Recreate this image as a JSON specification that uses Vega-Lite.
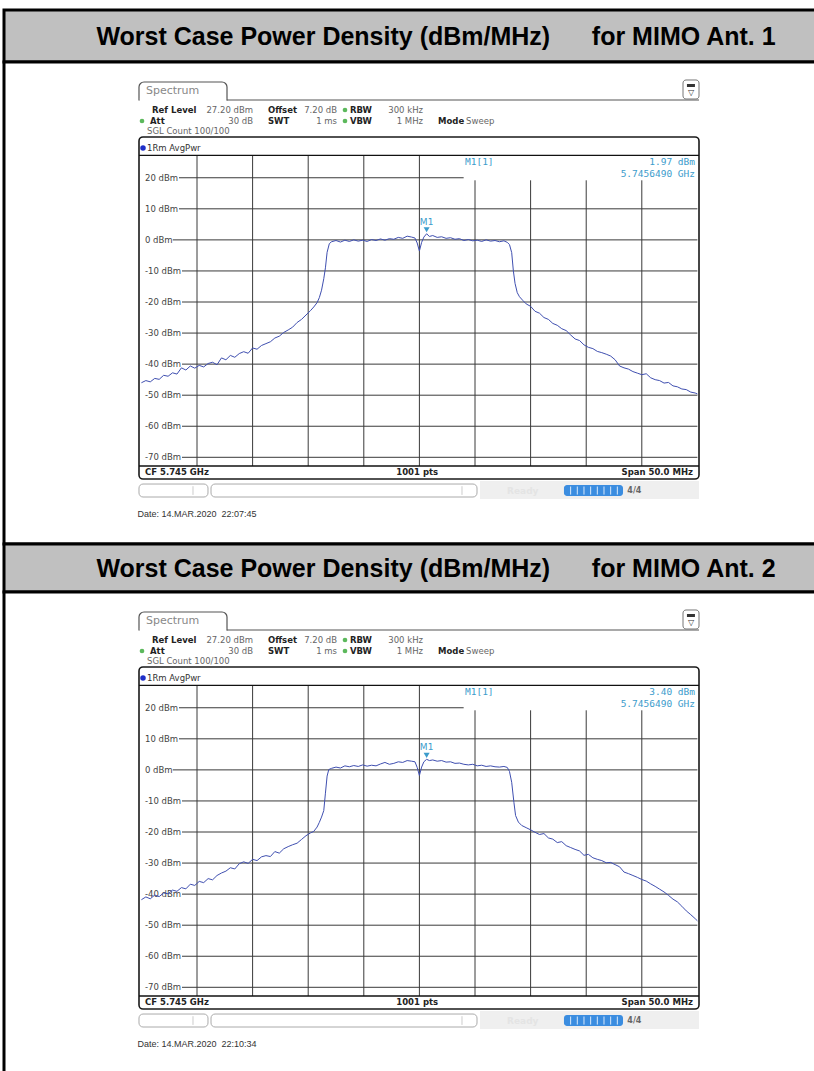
{
"$schema": "https://vega.github.io/schema/vega-lite/v6.json",
"background": "white",
"padding": {"left": 2, "top": 8, "right": 0, "bottom": 0},
"bounds": "flush",
"spacing": 0,
"config": {"font": "DejaVu Sans", "view": {"stroke": null}, "axis": {"disable": true}},
"datasets": {
"tr1": [{"mhz":5720.0,"dbm":-46.0},{"mhz":5720.4,"dbm":-45.3},{"mhz":5720.8,"dbm":-45.7},{"mhz":5721.2,"dbm":-44.6},{"mhz":5721.6,"dbm":-44.9},{"mhz":5722.0,"dbm":-43.6},{"mhz":5722.4,"dbm":-43.9},{"mhz":5722.8,"dbm":-42.8},{"mhz":5723.2,"dbm":-43.2},{"mhz":5723.6,"dbm":-41.2},{"mhz":5724.0,"dbm":-41.9},{"mhz":5724.4,"dbm":-40.6},{"mhz":5724.8,"dbm":-41.3},{"mhz":5725.2,"dbm":-40.4},{"mhz":5725.6,"dbm":-40.9},{"mhz":5726.0,"dbm":-39.8},{"mhz":5726.4,"dbm":-39.4},{"mhz":5726.8,"dbm":-40.2},{"mhz":5727.2,"dbm":-38.0},{"mhz":5727.6,"dbm":-38.6},{"mhz":5728.0,"dbm":-37.2},{"mhz":5728.4,"dbm":-37.8},{"mhz":5728.8,"dbm":-36.6},{"mhz":5729.2,"dbm":-36.0},{"mhz":5729.6,"dbm":-36.5},{"mhz":5730.0,"dbm":-34.8},{"mhz":5730.4,"dbm":-35.2},{"mhz":5730.8,"dbm":-34.0},{"mhz":5731.2,"dbm":-33.4},{"mhz":5731.6,"dbm":-32.8},{"mhz":5732.0,"dbm":-31.6},{"mhz":5732.4,"dbm":-31.0},{"mhz":5732.8,"dbm":-29.8},{"mhz":5733.2,"dbm":-29.0},{"mhz":5733.6,"dbm":-28.1},{"mhz":5734.0,"dbm":-26.6},{"mhz":5734.4,"dbm":-25.6},{"mhz":5734.8,"dbm":-24.2},{"mhz":5735.2,"dbm":-22.8},{"mhz":5735.5,"dbm":-21.6},{"mhz":5735.8,"dbm":-20.2},{"mhz":5736.0,"dbm":-18.6},{"mhz":5736.2,"dbm":-16.2},{"mhz":5736.4,"dbm":-12.5},{"mhz":5736.55,"dbm":-9.0},{"mhz":5736.7,"dbm":-4.0},{"mhz":5736.9,"dbm":-1.2},{"mhz":5737.1,"dbm":-0.6},{"mhz":5737.5,"dbm":-0.2},{"mhz":5737.9,"dbm":-0.7},{"mhz":5738.3,"dbm":-0.1},{"mhz":5738.7,"dbm":-0.5},{"mhz":5739.1,"dbm":0.0},{"mhz":5739.5,"dbm":-0.4},{"mhz":5739.9,"dbm":-0.1},{"mhz":5740.3,"dbm":-0.5},{"mhz":5740.7,"dbm":0.1},{"mhz":5741.1,"dbm":-0.2},{"mhz":5741.5,"dbm":0.3},{"mhz":5741.9,"dbm":-0.1},{"mhz":5742.3,"dbm":0.4},{"mhz":5742.7,"dbm":0.2},{"mhz":5743.1,"dbm":0.8},{"mhz":5743.5,"dbm":0.5},{"mhz":5743.9,"dbm":1.2},{"mhz":5744.3,"dbm":0.9},{"mhz":5744.6,"dbm":0.6},{"mhz":5744.8,"dbm":-1.0},{"mhz":5745.0,"dbm":-3.6},{"mhz":5745.2,"dbm":-0.8},{"mhz":5745.4,"dbm":0.9},{"mhz":5745.65,"dbm":1.97},{"mhz":5745.9,"dbm":1.1},{"mhz":5746.2,"dbm":1.4},{"mhz":5746.6,"dbm":0.8},{"mhz":5747.0,"dbm":1.0},{"mhz":5747.4,"dbm":0.5},{"mhz":5747.8,"dbm":0.7},{"mhz":5748.2,"dbm":0.2},{"mhz":5748.6,"dbm":0.4},{"mhz":5749.0,"dbm":-0.2},{"mhz":5749.4,"dbm":0.1},{"mhz":5749.8,"dbm":-0.3},{"mhz":5750.2,"dbm":-0.1},{"mhz":5750.6,"dbm":-0.5},{"mhz":5751.0,"dbm":0.0},{"mhz":5751.4,"dbm":-0.4},{"mhz":5751.8,"dbm":-0.2},{"mhz":5752.2,"dbm":-0.6},{"mhz":5752.6,"dbm":-0.3},{"mhz":5752.9,"dbm":-0.8},{"mhz":5753.1,"dbm":-1.5},{"mhz":5753.3,"dbm":-4.1},{"mhz":5753.45,"dbm":-10.0},{"mhz":5753.6,"dbm":-14.0},{"mhz":5753.8,"dbm":-17.0},{"mhz":5754.0,"dbm":-18.3},{"mhz":5754.3,"dbm":-19.5},{"mhz":5754.6,"dbm":-20.6},{"mhz":5755.0,"dbm":-21.4},{"mhz":5755.4,"dbm":-23.0},{"mhz":5755.8,"dbm":-23.6},{"mhz":5756.2,"dbm":-25.0},{"mhz":5756.6,"dbm":-25.6},{"mhz":5757.0,"dbm":-26.9},{"mhz":5757.4,"dbm":-27.5},{"mhz":5757.8,"dbm":-28.6},{"mhz":5758.2,"dbm":-29.2},{"mhz":5758.6,"dbm":-30.6},{"mhz":5759.0,"dbm":-31.9},{"mhz":5759.4,"dbm":-32.4},{"mhz":5759.8,"dbm":-33.8},{"mhz":5760.2,"dbm":-34.6},{"mhz":5760.6,"dbm":-35.0},{"mhz":5761.0,"dbm":-35.9},{"mhz":5761.4,"dbm":-36.3},{"mhz":5761.8,"dbm":-36.8},{"mhz":5762.2,"dbm":-37.4},{"mhz":5762.6,"dbm":-38.6},{"mhz":5763.0,"dbm":-40.6},{"mhz":5763.4,"dbm":-41.2},{"mhz":5763.8,"dbm":-41.6},{"mhz":5764.2,"dbm":-42.4},{"mhz":5764.6,"dbm":-42.9},{"mhz":5765.0,"dbm":-43.4},{"mhz":5765.4,"dbm":-43.1},{"mhz":5765.8,"dbm":-44.4},{"mhz":5766.2,"dbm":-45.0},{"mhz":5766.6,"dbm":-45.3},{"mhz":5767.0,"dbm":-46.1},{"mhz":5767.4,"dbm":-45.9},{"mhz":5767.8,"dbm":-47.0},{"mhz":5768.2,"dbm":-47.3},{"mhz":5768.6,"dbm":-48.0},{"mhz":5769.0,"dbm":-48.2},{"mhz":5769.4,"dbm":-49.0},{"mhz":5769.8,"dbm":-49.3},{"mhz":5770.0,"dbm":-49.6}],
"tr2": [{"mhz":5720.0,"dbm":-41.8},{"mhz":5720.4,"dbm":-40.9},{"mhz":5720.8,"dbm":-41.5},{"mhz":5721.2,"dbm":-40.3},{"mhz":5721.6,"dbm":-40.8},{"mhz":5722.0,"dbm":-39.6},{"mhz":5722.4,"dbm":-39.9},{"mhz":5722.8,"dbm":-38.7},{"mhz":5723.2,"dbm":-39.1},{"mhz":5723.6,"dbm":-37.9},{"mhz":5724.0,"dbm":-38.3},{"mhz":5724.4,"dbm":-36.8},{"mhz":5724.8,"dbm":-37.2},{"mhz":5725.2,"dbm":-35.9},{"mhz":5725.6,"dbm":-36.3},{"mhz":5726.0,"dbm":-35.0},{"mhz":5726.4,"dbm":-35.4},{"mhz":5726.8,"dbm":-34.0},{"mhz":5727.2,"dbm":-33.2},{"mhz":5727.6,"dbm":-32.6},{"mhz":5728.0,"dbm":-31.5},{"mhz":5728.4,"dbm":-31.9},{"mhz":5728.8,"dbm":-30.2},{"mhz":5729.2,"dbm":-29.6},{"mhz":5729.6,"dbm":-30.1},{"mhz":5730.0,"dbm":-28.8},{"mhz":5730.4,"dbm":-29.2},{"mhz":5730.8,"dbm":-28.0},{"mhz":5731.2,"dbm":-27.6},{"mhz":5731.6,"dbm":-27.9},{"mhz":5732.0,"dbm":-26.3},{"mhz":5732.4,"dbm":-26.8},{"mhz":5732.8,"dbm":-25.4},{"mhz":5733.2,"dbm":-24.7},{"mhz":5733.6,"dbm":-24.1},{"mhz":5734.0,"dbm":-23.6},{"mhz":5734.4,"dbm":-22.4},{"mhz":5734.8,"dbm":-21.2},{"mhz":5735.2,"dbm":-20.3},{"mhz":5735.5,"dbm":-19.8},{"mhz":5735.8,"dbm":-18.4},{"mhz":5736.0,"dbm":-16.9},{"mhz":5736.2,"dbm":-15.2},{"mhz":5736.4,"dbm":-13.1},{"mhz":5736.55,"dbm":-7.5},{"mhz":5736.7,"dbm":-2.0},{"mhz":5736.85,"dbm":0.1},{"mhz":5737.1,"dbm":0.5},{"mhz":5737.5,"dbm":0.9},{"mhz":5737.9,"dbm":0.6},{"mhz":5738.3,"dbm":1.3},{"mhz":5738.7,"dbm":1.0},{"mhz":5739.1,"dbm":1.4},{"mhz":5739.5,"dbm":1.1},{"mhz":5739.9,"dbm":1.6},{"mhz":5740.3,"dbm":1.2},{"mhz":5740.7,"dbm":1.5},{"mhz":5741.1,"dbm":1.3},{"mhz":5741.5,"dbm":1.9},{"mhz":5741.9,"dbm":2.4},{"mhz":5742.3,"dbm":1.8},{"mhz":5742.7,"dbm":2.1},{"mhz":5743.1,"dbm":2.6},{"mhz":5743.5,"dbm":2.4},{"mhz":5743.9,"dbm":3.0},{"mhz":5744.3,"dbm":2.8},{"mhz":5744.6,"dbm":2.6},{"mhz":5744.8,"dbm":0.8},{"mhz":5745.0,"dbm":-1.8},{"mhz":5745.2,"dbm":0.9},{"mhz":5745.4,"dbm":2.6},{"mhz":5745.65,"dbm":3.4},{"mhz":5745.9,"dbm":3.0},{"mhz":5746.2,"dbm":3.2},{"mhz":5746.6,"dbm":2.8},{"mhz":5747.0,"dbm":3.0},{"mhz":5747.4,"dbm":2.5},{"mhz":5747.8,"dbm":2.6},{"mhz":5748.2,"dbm":2.1},{"mhz":5748.6,"dbm":2.2},{"mhz":5749.0,"dbm":1.8},{"mhz":5749.4,"dbm":1.6},{"mhz":5749.8,"dbm":1.8},{"mhz":5750.2,"dbm":1.3},{"mhz":5750.6,"dbm":1.5},{"mhz":5751.0,"dbm":1.1},{"mhz":5751.4,"dbm":1.3},{"mhz":5751.8,"dbm":1.0},{"mhz":5752.2,"dbm":0.9},{"mhz":5752.6,"dbm":1.1},{"mhz":5752.9,"dbm":0.8},{"mhz":5753.1,"dbm":-0.5},{"mhz":5753.3,"dbm":-4.0},{"mhz":5753.5,"dbm":-10.5},{"mhz":5753.65,"dbm":-14.7},{"mhz":5753.9,"dbm":-16.8},{"mhz":5754.2,"dbm":-17.9},{"mhz":5754.6,"dbm":-18.6},{"mhz":5755.0,"dbm":-19.3},{"mhz":5755.4,"dbm":-20.1},{"mhz":5755.8,"dbm":-20.8},{"mhz":5756.2,"dbm":-20.5},{"mhz":5756.6,"dbm":-21.9},{"mhz":5757.0,"dbm":-22.3},{"mhz":5757.4,"dbm":-23.4},{"mhz":5757.8,"dbm":-23.1},{"mhz":5758.2,"dbm":-24.4},{"mhz":5758.6,"dbm":-25.0},{"mhz":5759.0,"dbm":-25.6},{"mhz":5759.4,"dbm":-26.1},{"mhz":5759.8,"dbm":-27.5},{"mhz":5760.2,"dbm":-27.2},{"mhz":5760.6,"dbm":-28.3},{"mhz":5761.0,"dbm":-28.8},{"mhz":5761.4,"dbm":-29.2},{"mhz":5761.8,"dbm":-29.9},{"mhz":5762.2,"dbm":-29.8},{"mhz":5762.6,"dbm":-30.5},{"mhz":5763.0,"dbm":-31.2},{"mhz":5763.4,"dbm":-32.9},{"mhz":5763.8,"dbm":-33.4},{"mhz":5764.2,"dbm":-34.0},{"mhz":5764.6,"dbm":-34.6},{"mhz":5765.0,"dbm":-35.3},{"mhz":5765.4,"dbm":-35.8},{"mhz":5765.8,"dbm":-36.7},{"mhz":5766.2,"dbm":-37.5},{"mhz":5766.6,"dbm":-38.4},{"mhz":5767.0,"dbm":-39.3},{"mhz":5767.4,"dbm":-40.4},{"mhz":5767.8,"dbm":-41.6},{"mhz":5768.2,"dbm":-42.5},{"mhz":5768.6,"dbm":-43.9},{"mhz":5769.0,"dbm":-45.4},{"mhz":5769.4,"dbm":-46.6},{"mhz":5769.8,"dbm":-47.9},{"mhz":5770.0,"dbm":-48.6}],
"vg": [{"mhz":5725,"top":27.2},{"mhz":5730,"top":27.2},{"mhz":5735,"top":27.2},{"mhz":5740,"top":27.2},{"mhz":5745,"top":27.2},{"mhz":5750,"top":19.18},{"mhz":5755,"top":19.18},{"mhz":5760,"top":19.18},{"mhz":5765,"top":19.18}],
"hg": [{"lvl":20,"lab":"20 dBm","x1":5723.38,"x2":5748.98},{"lvl":10,"lab":"10 dBm","x1":5723.38,"x2":5770},{"lvl":0,"lab":"0 dBm","x1":5722.82,"x2":5770},{"lvl":-10,"lab":"-10 dBm","x1":5723.65,"x2":5770},{"lvl":-20,"lab":"-20 dBm","x1":5723.65,"x2":5770},{"lvl":-30,"lab":"-30 dBm","x1":5723.65,"x2":5770},{"lvl":-40,"lab":"-40 dBm","x1":5723.65,"x2":5770},{"lvl":-50,"lab":"-50 dBm","x1":5723.65,"x2":5770},{"lvl":-60,"lab":"-60 dBm","x1":5723.65,"x2":5770},{"lvl":-70,"lab":"-70 dBm","x1":5723.65,"x2":5770}],
"hf": [{"lvl":27.2},{"lvl":-72.8}],
"pb": [{"t":"Ref Level","mhz":5720.953,"dbm":41.82},{"t":"Offset","mhz":5731.385,"dbm":41.82},{"t":"RBW","mhz":5738.759,"dbm":41.82},{"t":"Att","mhz":5720.773,"dbm":38.28},{"t":"SWT","mhz":5731.385,"dbm":38.28},{"t":"VBW","mhz":5738.759,"dbm":38.28},{"t":"Mode","mhz":5746.673,"dbm":38.28}],
"pv": [{"t":"27.20 dBm","mhz":5730.036,"dbm":41.82},{"t":"7.20 dB","mhz":5737.59,"dbm":41.82},{"t":"300 kHz","mhz":5745.324,"dbm":41.82},{"t":"30 dB","mhz":5730.036,"dbm":38.28},{"t":"1 ms","mhz":5737.59,"dbm":38.28},{"t":"1 MHz","mhz":5745.324,"dbm":38.28}],
"pl": [{"t":"Sweep","mhz":5749.2,"dbm":38.28},{"t":"SGL Count 100/100","mhz":5720.504,"dbm":35.06}],
"gd": [{"mhz":5738.309,"dbm":41.82},{"mhz":5738.309,"dbm":38.28},{"mhz":5720.054,"dbm":38.28}],
"mk1": [{"mhz":5745.649,"dbm":1.97,"lvl_t":"1.97 dBm","f_t":"5.7456490 GHz","m":"M1"}],
"mk2": [{"mhz":5745.649,"dbm":3.40,"lvl_t":"3.40 dBm","f_t":"5.7456490 GHz","m":"M1"}],
"sb": [{"mhz":5719.784,"mhz2":5725.989},{"mhz":5726.259,"mhz2":5750.18}],
"sd": [{"mhz":5724.64},{"mhz":5748.83}],
"seg": [{"mhz":5758.6},{"mhz":5759.2},{"mhz":5759.8},{"mhz":5760.4},{"mhz":5761.0},{"mhz":5761.6},{"mhz":5762.2},{"mhz":5762.8}]
},
"vconcat": [
{"width":812,"height":52,"view":{"fill":"#c0c0c0","stroke":"#000000","strokeWidth":3},
 "data":{"values":[{"t":"Worst Case Power Density (dBm/MHz)\u00a0\u00a0\u00a0\u00a0\u00a0\u00a0for MIMO Ant. 1"}]},
 "mark":{"type":"text","dx":26,"dy":1,"align":"center","baseline":"middle","font":"Liberation Sans","fontWeight":"bold","fontSize":25,"color":"#000000"},
 "encoding":{"x":{"field":"t","type":"nominal","axis":null},"y":{"field":"t","type":"nominal","axis":null},"text":{"field":"t"}}},
{"width":812,"height":482,"view":{"fill":"#ffffff","stroke":"#000000","strokeWidth":3},
 "layer":[
 {"data":{"values":[{}]},"mark":{"type":"rect","fill":"#efefef"},"encoding":{"x":{"datum":5750.45,"scale":{"domain":[5707.644,5780.665],"nice":false,"zero":false},"axis":null},"x2":{"datum":5770.144},"y":{"datum":-77.63,"scale":{"domain":[-97.91,57.27],"nice":false,"zero":false},"axis":null},"y2":{"datum":-83.42}}},
 {"data":{"values":[{}]},"mark":{"type":"rect","filled":false,"stroke":"#1a1a1a","strokeWidth":1.6,"cornerRadius":4},"encoding":{"x":{"datum":5719.784},"x2":{"datum":5770.144},"y":{"datum":33.124},"y2":{"datum":-76.98}}},
 {"data":{"values":[{}]},"mark":{"type":"rect","fill":"#ffffff","stroke":"#555555","strokeWidth":1.2,"cornerRadiusTopLeft":5,"cornerRadiusTopRight":5},"encoding":{"x":{"datum":5719.784},"x2":{"datum":5727.698},"y":{"datum":50.832},"y2":{"datum":45.036}}},
 {"data":{"values":[{}]},"mark":{"type":"rule","stroke":"#ffffff","strokeWidth":2.5},"encoding":{"x":{"datum":5719.85},"x2":{"datum":5727.63},"y":{"datum":45.036}}},
 {"data":{"values":[{}]},"mark":{"type":"rule","stroke":"#555555","strokeWidth":1.2},"encoding":{"x":{"datum":5727.698},"x2":{"datum":5770.144},"y":{"datum":45.036}}},
 {"data":{"values":[{}]},"mark":{"type":"text","align":"left","baseline":"middle","fontSize":11,"color":"#888888"},"encoding":{"x":{"datum":5720.414},"y":{"datum":47.934},"text":{"value":"Spectrum"}}},
 {"data":{"values":[{}]},"mark":{"type":"rect","fill":"#ffffff","stroke":"#777777","strokeWidth":1,"cornerRadius":3},"encoding":{"x":{"datum":5768.705},"x2":{"datum":5770.144},"y":{"datum":51.476},"y2":{"datum":45.358}}},
 {"data":{"values":[{}]},"mark":{"type":"rect","fill":"#333333"},"encoding":{"x":{"datum":5769.06},"x2":{"datum":5769.78},"y":{"datum":50.19},"y2":{"datum":49.23}}},
 {"data":{"values":[{}]},"mark":{"type":"text","fontSize":8,"color":"#333333","align":"center","baseline":"middle"},"encoding":{"x":{"datum":5769.42},"y":{"datum":47.4},"text":{"value":"▽"}}},
 {"data":{"name":"vg"},"mark":{"type":"rule","stroke":"#3a3a3a","strokeWidth":1},"encoding":{"x":{"field":"mhz","type":"quantitative"},"y":{"field":"top","type":"quantitative"},"y2":{"datum":-72.8}}},
 {"data":{"name":"hg"},"mark":{"type":"rule","stroke":"#3a3a3a","strokeWidth":1},"encoding":{"x":{"field":"x1","type":"quantitative"},"x2":{"field":"x2"},"y":{"field":"lvl","type":"quantitative"}}},
 {"data":{"name":"hf"},"mark":{"type":"rule","stroke":"#111111","strokeWidth":1.3},"encoding":{"x":{"datum":5719.784},"x2":{"datum":5770.144},"y":{"field":"lvl","type":"quantitative"}}},
 {"data":{"name":"hg"},"mark":{"type":"text","align":"left","baseline":"middle","fontSize":8.5,"color":"#444444"},"encoding":{"x":{"datum":5720.324},"y":{"field":"lvl","type":"quantitative"},"text":{"field":"lab"}}},
 {"data":{"name":"pb"},"mark":{"type":"text","align":"left","baseline":"middle","fontSize":8.5,"fontWeight":"bold","color":"#222222"},"encoding":{"x":{"field":"mhz","type":"quantitative"},"y":{"field":"dbm","type":"quantitative"},"text":{"field":"t"}}},
 {"data":{"name":"pv"},"mark":{"type":"text","align":"right","baseline":"middle","fontSize":8.5,"color":"#666666"},"encoding":{"x":{"field":"mhz","type":"quantitative"},"y":{"field":"dbm","type":"quantitative"},"text":{"field":"t"}}},
 {"data":{"name":"pl"},"mark":{"type":"text","align":"left","baseline":"middle","fontSize":8.5,"color":"#666666"},"encoding":{"x":{"field":"mhz","type":"quantitative"},"y":{"field":"dbm","type":"quantitative"},"text":{"field":"t"}}},
 {"data":{"name":"gd"},"mark":{"type":"point","filled":true,"size":22,"color":"#5cb85c","opacity":1},"encoding":{"x":{"field":"mhz","type":"quantitative"},"y":{"field":"dbm","type":"quantitative"}}},
 {"data":{"values":[{}]},"mark":{"type":"point","filled":true,"size":30,"color":"#1f2fc8","opacity":1},"encoding":{"x":{"datum":5720.144},"y":{"datum":29.582}}},
 {"data":{"values":[{}]},"mark":{"type":"text","align":"left","baseline":"middle","fontSize":8.5,"color":"#333333"},"encoding":{"x":{"datum":5720.504},"y":{"datum":29.582},"text":{"value":"1Rm AvgPwr"}}},
 {"data":{"values":[{}]},"mark":{"type":"text","align":"left","baseline":"middle","fontSize":9.5,"font":"DejaVu Sans Mono","color":"#3c9ccc"},"encoding":{"x":{"datum":5749.1},"y":{"datum":25.075},"text":{"value":"M1[1]"}}},
 {"data":{"name":"mk1"},"mark":{"type":"text","align":"right","baseline":"middle","fontSize":9.5,"font":"DejaVu Sans Mono","color":"#3c9ccc"},"encoding":{"x":{"datum":5769.784},"y":{"datum":25.075},"text":{"field":"lvl_t"}}},
 {"data":{"name":"mk1"},"mark":{"type":"text","align":"right","baseline":"middle","fontSize":9.5,"font":"DejaVu Sans Mono","color":"#3c9ccc"},"encoding":{"x":{"datum":5769.784},"y":{"datum":21.212},"text":{"field":"f_t"}}},
 {"data":{"name":"tr1"},"mark":{"type":"line","color":"#3f4fb0","strokeWidth":1},"encoding":{"x":{"field":"mhz","type":"quantitative"},"y":{"field":"dbm","type":"quantitative"}}},
 {"data":{"name":"mk1"},"mark":{"type":"point","shape":"triangle-down","filled":true,"size":36,"color":"#3c9ccc","opacity":1,"yOffset":-4},"encoding":{"x":{"field":"mhz","type":"quantitative"},"y":{"field":"dbm","type":"quantitative"}}},
 {"data":{"name":"mk1"},"mark":{"type":"text","align":"center","baseline":"middle","fontSize":9,"color":"#3c9ccc","dy":-12},"encoding":{"x":{"field":"mhz","type":"quantitative"},"y":{"field":"dbm","type":"quantitative"},"text":{"field":"m"}}},
 {"data":{"values":[{}]},"mark":{"type":"text","align":"left","baseline":"middle","fontSize":8.5,"fontWeight":"bold","color":"#222222"},"encoding":{"x":{"datum":5720.324},"y":{"datum":-74.89},"text":{"value":"CF 5.745 GHz"}}},
 {"data":{"values":[{}]},"mark":{"type":"text","align":"center","baseline":"middle","fontSize":8.5,"fontWeight":"bold","color":"#222222"},"encoding":{"x":{"datum":5744.8},"y":{"datum":-74.89},"text":{"value":"1001 pts"}}},
 {"data":{"values":[{}]},"mark":{"type":"text","align":"right","baseline":"middle","fontSize":8.5,"fontWeight":"bold","color":"#222222"},"encoding":{"x":{"datum":5769.6},"y":{"datum":-74.89},"text":{"value":"Span 50.0 MHz"}}},
 {"data":{"name":"sb"},"mark":{"type":"rect","fill":"#ffffff","stroke":"#aaaaaa","strokeWidth":1,"cornerRadius":4},"encoding":{"x":{"field":"mhz","type":"quantitative"},"x2":{"field":"mhz2"},"y":{"datum":-78.6},"y2":{"datum":-82.78}}},
 {"data":{"name":"sd"},"mark":{"type":"rule","stroke":"#cccccc","strokeWidth":1},"encoding":{"x":{"field":"mhz","type":"quantitative"},"y":{"datum":-79.3},"y2":{"datum":-82.1}}},
 {"data":{"values":[{}]},"mark":{"type":"text","align":"left","baseline":"middle","fontSize":9,"fontWeight":"bold","color":"#e4e4e4"},"encoding":{"x":{"datum":5752.88},"y":{"datum":-80.69},"text":{"value":"Ready"}}},
 {"data":{"values":[{}]},"mark":{"type":"rect","fill":"#3b8de0","cornerRadius":3},"encoding":{"x":{"datum":5758.0},"x2":{"datum":5763.31},"y":{"datum":-78.93},"y2":{"datum":-82.47}}},
 {"data":{"name":"seg"},"mark":{"type":"rule","stroke":"#d8e8fa","strokeWidth":1},"encoding":{"x":{"field":"mhz","type":"quantitative"},"y":{"datum":-79.4},"y2":{"datum":-82.0}}},
 {"data":{"values":[{}]},"mark":{"type":"text","align":"left","baseline":"middle","fontSize":8,"fontWeight":"bold","color":"#666666"},"encoding":{"x":{"datum":5763.7},"y":{"datum":-80.69},"text":{"value":"4/4"}}},
 {"data":{"values":[{}]},"mark":{"type":"text","align":"left","baseline":"middle","fontSize":9,"font":"Liberation Sans","color":"#333333"},"encoding":{"x":{"datum":5719.65},"y":{"datum":-88.25},"text":{"value":"Date: 14.MAR.2020\u00a0\u00a022:07:45"}}}
 ]},
{"width":812,"height":48,"view":{"fill":"#c0c0c0","stroke":"#000000","strokeWidth":3},
 "data":{"values":[{"t":"Worst Case Power Density (dBm/MHz)\u00a0\u00a0\u00a0\u00a0\u00a0\u00a0for MIMO Ant. 2"}]},
 "mark":{"type":"text","dx":26,"dy":1,"align":"center","baseline":"middle","font":"Liberation Sans","fontWeight":"bold","fontSize":25,"color":"#000000"},
 "encoding":{"x":{"field":"t","type":"nominal","axis":null},"y":{"field":"t","type":"nominal","axis":null},"text":{"field":"t"}}},
{"width":812,"height":482,"view":{"fill":"#ffffff","stroke":"#000000","strokeWidth":3},
 "layer":[
 {"data":{"values":[{}]},"mark":{"type":"rect","fill":"#efefef"},"encoding":{"x":{"datum":5750.45,"scale":{"domain":[5707.644,5780.665],"nice":false,"zero":false},"axis":null},"x2":{"datum":5770.144},"y":{"datum":-77.63,"scale":{"domain":[-97.91,57.27],"nice":false,"zero":false},"axis":null},"y2":{"datum":-83.42}}},
 {"data":{"values":[{}]},"mark":{"type":"rect","filled":false,"stroke":"#1a1a1a","strokeWidth":1.6,"cornerRadius":4},"encoding":{"x":{"datum":5719.784},"x2":{"datum":5770.144},"y":{"datum":33.124},"y2":{"datum":-76.98}}},
 {"data":{"values":[{}]},"mark":{"type":"rect","fill":"#ffffff","stroke":"#555555","strokeWidth":1.2,"cornerRadiusTopLeft":5,"cornerRadiusTopRight":5},"encoding":{"x":{"datum":5719.784},"x2":{"datum":5727.698},"y":{"datum":50.832},"y2":{"datum":45.036}}},
 {"data":{"values":[{}]},"mark":{"type":"rule","stroke":"#ffffff","strokeWidth":2.5},"encoding":{"x":{"datum":5719.85},"x2":{"datum":5727.63},"y":{"datum":45.036}}},
 {"data":{"values":[{}]},"mark":{"type":"rule","stroke":"#555555","strokeWidth":1.2},"encoding":{"x":{"datum":5727.698},"x2":{"datum":5770.144},"y":{"datum":45.036}}},
 {"data":{"values":[{}]},"mark":{"type":"text","align":"left","baseline":"middle","fontSize":11,"color":"#888888"},"encoding":{"x":{"datum":5720.414},"y":{"datum":47.934},"text":{"value":"Spectrum"}}},
 {"data":{"values":[{}]},"mark":{"type":"rect","fill":"#ffffff","stroke":"#777777","strokeWidth":1,"cornerRadius":3},"encoding":{"x":{"datum":5768.705},"x2":{"datum":5770.144},"y":{"datum":51.476},"y2":{"datum":45.358}}},
 {"data":{"values":[{}]},"mark":{"type":"rect","fill":"#333333"},"encoding":{"x":{"datum":5769.06},"x2":{"datum":5769.78},"y":{"datum":50.19},"y2":{"datum":49.23}}},
 {"data":{"values":[{}]},"mark":{"type":"text","fontSize":8,"color":"#333333","align":"center","baseline":"middle"},"encoding":{"x":{"datum":5769.42},"y":{"datum":47.4},"text":{"value":"▽"}}},
 {"data":{"name":"vg"},"mark":{"type":"rule","stroke":"#3a3a3a","strokeWidth":1},"encoding":{"x":{"field":"mhz","type":"quantitative"},"y":{"field":"top","type":"quantitative"},"y2":{"datum":-72.8}}},
 {"data":{"name":"hg"},"mark":{"type":"rule","stroke":"#3a3a3a","strokeWidth":1},"encoding":{"x":{"field":"x1","type":"quantitative"},"x2":{"field":"x2"},"y":{"field":"lvl","type":"quantitative"}}},
 {"data":{"name":"hf"},"mark":{"type":"rule","stroke":"#111111","strokeWidth":1.3},"encoding":{"x":{"datum":5719.784},"x2":{"datum":5770.144},"y":{"field":"lvl","type":"quantitative"}}},
 {"data":{"name":"hg"},"mark":{"type":"text","align":"left","baseline":"middle","fontSize":8.5,"color":"#444444"},"encoding":{"x":{"datum":5720.324},"y":{"field":"lvl","type":"quantitative"},"text":{"field":"lab"}}},
 {"data":{"name":"pb"},"mark":{"type":"text","align":"left","baseline":"middle","fontSize":8.5,"fontWeight":"bold","color":"#222222"},"encoding":{"x":{"field":"mhz","type":"quantitative"},"y":{"field":"dbm","type":"quantitative"},"text":{"field":"t"}}},
 {"data":{"name":"pv"},"mark":{"type":"text","align":"right","baseline":"middle","fontSize":8.5,"color":"#666666"},"encoding":{"x":{"field":"mhz","type":"quantitative"},"y":{"field":"dbm","type":"quantitative"},"text":{"field":"t"}}},
 {"data":{"name":"pl"},"mark":{"type":"text","align":"left","baseline":"middle","fontSize":8.5,"color":"#666666"},"encoding":{"x":{"field":"mhz","type":"quantitative"},"y":{"field":"dbm","type":"quantitative"},"text":{"field":"t"}}},
 {"data":{"name":"gd"},"mark":{"type":"point","filled":true,"size":22,"color":"#5cb85c","opacity":1},"encoding":{"x":{"field":"mhz","type":"quantitative"},"y":{"field":"dbm","type":"quantitative"}}},
 {"data":{"values":[{}]},"mark":{"type":"point","filled":true,"size":30,"color":"#1f2fc8","opacity":1},"encoding":{"x":{"datum":5720.144},"y":{"datum":29.582}}},
 {"data":{"values":[{}]},"mark":{"type":"text","align":"left","baseline":"middle","fontSize":8.5,"color":"#333333"},"encoding":{"x":{"datum":5720.504},"y":{"datum":29.582},"text":{"value":"1Rm AvgPwr"}}},
 {"data":{"values":[{}]},"mark":{"type":"text","align":"left","baseline":"middle","fontSize":9.5,"font":"DejaVu Sans Mono","color":"#3c9ccc"},"encoding":{"x":{"datum":5749.1},"y":{"datum":25.075},"text":{"value":"M1[1]"}}},
 {"data":{"name":"mk2"},"mark":{"type":"text","align":"right","baseline":"middle","fontSize":9.5,"font":"DejaVu Sans Mono","color":"#3c9ccc"},"encoding":{"x":{"datum":5769.784},"y":{"datum":25.075},"text":{"field":"lvl_t"}}},
 {"data":{"name":"mk2"},"mark":{"type":"text","align":"right","baseline":"middle","fontSize":9.5,"font":"DejaVu Sans Mono","color":"#3c9ccc"},"encoding":{"x":{"datum":5769.784},"y":{"datum":21.212},"text":{"field":"f_t"}}},
 {"data":{"name":"tr2"},"mark":{"type":"line","color":"#3f4fb0","strokeWidth":1},"encoding":{"x":{"field":"mhz","type":"quantitative"},"y":{"field":"dbm","type":"quantitative"}}},
 {"data":{"name":"mk2"},"mark":{"type":"point","shape":"triangle-down","filled":true,"size":36,"color":"#3c9ccc","opacity":1,"yOffset":-4},"encoding":{"x":{"field":"mhz","type":"quantitative"},"y":{"field":"dbm","type":"quantitative"}}},
 {"data":{"name":"mk2"},"mark":{"type":"text","align":"center","baseline":"middle","fontSize":9,"color":"#3c9ccc","dy":-12},"encoding":{"x":{"field":"mhz","type":"quantitative"},"y":{"field":"dbm","type":"quantitative"},"text":{"field":"m"}}},
 {"data":{"values":[{}]},"mark":{"type":"text","align":"left","baseline":"middle","fontSize":8.5,"fontWeight":"bold","color":"#222222"},"encoding":{"x":{"datum":5720.324},"y":{"datum":-74.89},"text":{"value":"CF 5.745 GHz"}}},
 {"data":{"values":[{}]},"mark":{"type":"text","align":"center","baseline":"middle","fontSize":8.5,"fontWeight":"bold","color":"#222222"},"encoding":{"x":{"datum":5744.8},"y":{"datum":-74.89},"text":{"value":"1001 pts"}}},
 {"data":{"values":[{}]},"mark":{"type":"text","align":"right","baseline":"middle","fontSize":8.5,"fontWeight":"bold","color":"#222222"},"encoding":{"x":{"datum":5769.6},"y":{"datum":-74.89},"text":{"value":"Span 50.0 MHz"}}},
 {"data":{"name":"sb"},"mark":{"type":"rect","fill":"#ffffff","stroke":"#aaaaaa","strokeWidth":1,"cornerRadius":4},"encoding":{"x":{"field":"mhz","type":"quantitative"},"x2":{"field":"mhz2"},"y":{"datum":-78.6},"y2":{"datum":-82.78}}},
 {"data":{"name":"sd"},"mark":{"type":"rule","stroke":"#cccccc","strokeWidth":1},"encoding":{"x":{"field":"mhz","type":"quantitative"},"y":{"datum":-79.3},"y2":{"datum":-82.1}}},
 {"data":{"values":[{}]},"mark":{"type":"text","align":"left","baseline":"middle","fontSize":9,"fontWeight":"bold","color":"#e4e4e4"},"encoding":{"x":{"datum":5752.88},"y":{"datum":-80.69},"text":{"value":"Ready"}}},
 {"data":{"values":[{}]},"mark":{"type":"rect","fill":"#3b8de0","cornerRadius":3},"encoding":{"x":{"datum":5758.0},"x2":{"datum":5763.31},"y":{"datum":-78.93},"y2":{"datum":-82.47}}},
 {"data":{"name":"seg"},"mark":{"type":"rule","stroke":"#d8e8fa","strokeWidth":1},"encoding":{"x":{"field":"mhz","type":"quantitative"},"y":{"datum":-79.4},"y2":{"datum":-82.0}}},
 {"data":{"values":[{}]},"mark":{"type":"text","align":"left","baseline":"middle","fontSize":8,"fontWeight":"bold","color":"#666666"},"encoding":{"x":{"datum":5763.7},"y":{"datum":-80.69},"text":{"value":"4/4"}}},
 {"data":{"values":[{}]},"mark":{"type":"text","align":"left","baseline":"middle","fontSize":9,"font":"Liberation Sans","color":"#333333"},"encoding":{"x":{"datum":5719.65},"y":{"datum":-88.25},"text":{"value":"Date: 14.MAR.2020\u00a0\u00a022:10:34"}}}
 ]}
]
}
